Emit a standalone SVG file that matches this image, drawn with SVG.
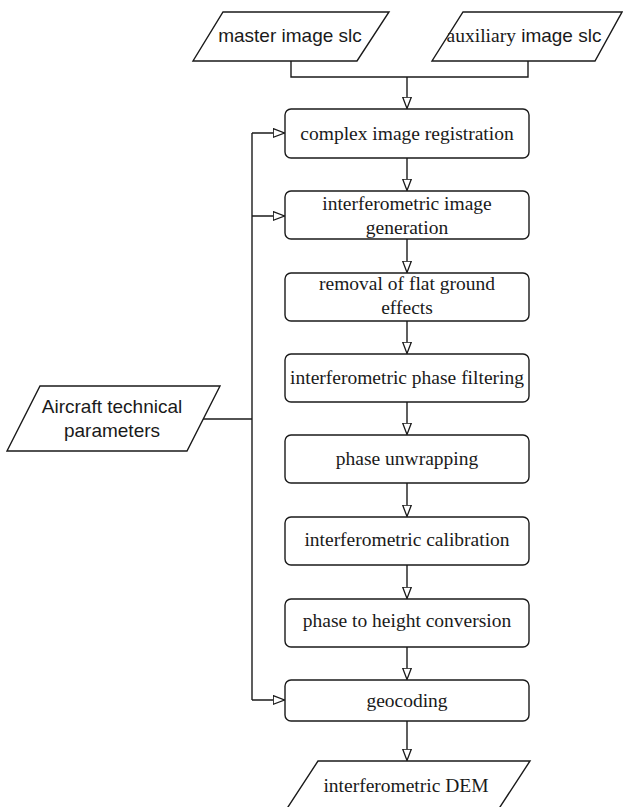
<svg xmlns="http://www.w3.org/2000/svg" width="623" height="807" viewBox="0 0 623 807">
<style>
.box{fill:#fff;stroke:#1a1a1a;stroke-width:1.4}
.io{fill:#fff;stroke:#1a1a1a;stroke-width:1.4}
.serif{font-family:"Liberation Serif","Times New Roman",serif;font-size:19.5px;fill:#1a1a1a;text-anchor:middle}
.sans{font-family:"Liberation Sans",Arial,sans-serif;font-size:19px;fill:#1a1a1a;text-anchor:middle}
.ln{fill:none;stroke:#1a1a1a;stroke-width:1.4}
</style>
<defs>
<marker id="ah" markerUnits="userSpaceOnUse" markerWidth="14" markerHeight="12" refX="12" refY="5" orient="auto">
<path d="M0.7,0.7 L12,5 L0.7,9.3 Z" fill="#fff" stroke="#1a1a1a" stroke-width="1.3"/>
</marker>
</defs>
<rect width="623" height="807" fill="#fff"/>
<g id="connectors">
<path class="ln" d="M291,61 V77 H528 V61"/>
<path class="ln" d="M407,77 V108.5" marker-end="url(#ah)"/>
<path class="ln" d="M407,158 V190.5" marker-end="url(#ah)"/>
<path class="ln" d="M407,239 V272.5" marker-end="url(#ah)"/>
<path class="ln" d="M407,321 V353.5" marker-end="url(#ah)"/>
<path class="ln" d="M407,402 V434.5" marker-end="url(#ah)"/>
<path class="ln" d="M407,483 V516.5" marker-end="url(#ah)"/>
<path class="ln" d="M407,565 V598.5" marker-end="url(#ah)"/>
<path class="ln" d="M407,647 V679.5" marker-end="url(#ah)"/>
<path class="ln" d="M407,721 V760.5" marker-end="url(#ah)"/>
<path class="ln" d="M203,419 H252"/>
<path class="ln" d="M252,133 V700"/>
<path class="ln" d="M252,133 H284.5" marker-end="url(#ah)"/>
<path class="ln" d="M252,216 H284.5" marker-end="url(#ah)"/>
<path class="ln" d="M252,700 H284.5" marker-end="url(#ah)"/>
</g>
<g id="master">
<polygon class="io" points="223,12 389,12 357,61 193,61"/>
<text class="sans" x="290" y="42">master image slc</text>
</g>
<g id="auxiliary">
<polygon class="io" points="463,12 622,12 595,61 432,61"/>
<text x="524" y="42" style="font-size:19px;fill:#1a1a1a;text-anchor:middle"><tspan style="font-family:'Liberation Serif','Times New Roman',serif;font-size:19.5px">auxiliary</tspan><tspan style="font-family:'Liberation Sans',Arial,sans-serif"> image slc</tspan></text>
</g>
<g id="aircraft">
<polygon class="io" points="40,386 220,386 187,451 7,451"/>
<text class="sans" x="112" y="413">Aircraft technical</text>
<text class="sans" x="112" y="437">parameters</text>
</g>
<g id="registration">
<rect class="box" x="285" y="109" width="244" height="49" rx="6"/>
<text class="serif" x="407" y="140">complex image registration</text>
</g>
<g id="generation">
<rect class="box" x="285" y="191" width="244" height="48" rx="6"/>
<text class="serif" x="407" y="210">interferometric image</text>
<text class="serif" x="407" y="234">generation</text>
</g>
<g id="flat">
<rect class="box" x="285" y="273" width="244" height="48" rx="6"/>
<text class="serif" x="407" y="290">removal of flat ground</text>
<text class="serif" x="407" y="314">effects</text>
</g>
<g id="filtering">
<rect class="box" x="285" y="354" width="244" height="48" rx="6"/>
<text class="serif" x="407" y="384">interferometric phase filtering</text>
</g>
<g id="unwrapping">
<rect class="box" x="285" y="435" width="244" height="48" rx="6"/>
<text class="serif" x="407" y="465">phase unwrapping</text>
</g>
<g id="calibration">
<rect class="box" x="285" y="517" width="244" height="48" rx="6"/>
<text class="serif" x="407" y="546">interferometric calibration</text>
</g>
<g id="height">
<rect class="box" x="285" y="599" width="244" height="48" rx="6"/>
<text class="serif" x="407" y="627">phase to height conversion</text>
</g>
<g id="geocoding">
<rect class="box" x="285" y="680" width="244" height="41" rx="6"/>
<text class="serif" x="407" y="707">geocoding</text>
</g>
<g id="dem">
<polygon class="io" points="318,761 530,761 498,810 286,810"/>
<text class="serif" x="406" y="792">interferometric DEM</text>
</g>
</svg>
